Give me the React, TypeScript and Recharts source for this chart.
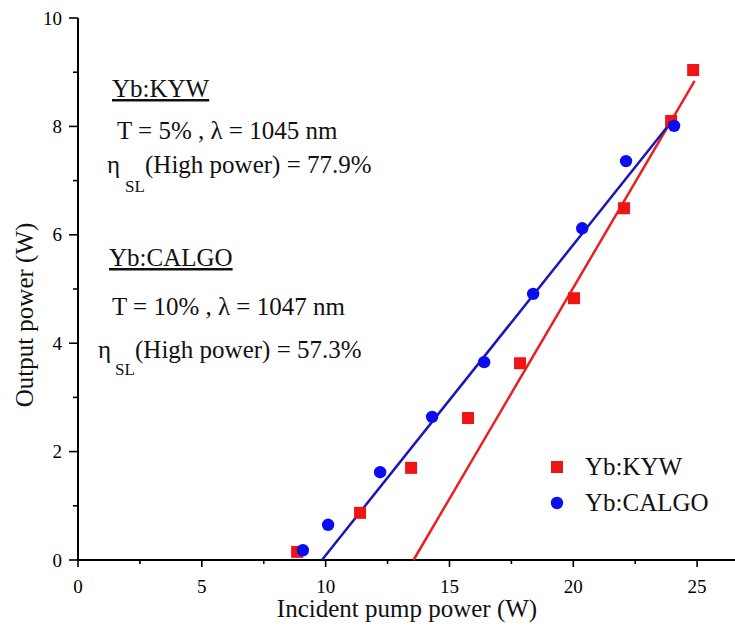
import React from 'react';
import { ComposedChart, Scatter, XAxis, YAxis, Legend } from 'recharts';

const kywX = [8.85, 11.39, 13.45, 15.75, 17.85, 20.03, 22.05, 23.95, 24.84];
const kywY = [0.15, 0.87, 1.7, 2.62, 3.63, 4.83, 6.49, 8.1, 9.04];
const calgoX = [9.08, 10.1, 12.2, 14.3, 16.4, 18.38, 20.36, 22.13, 24.07];
const calgoY = [0.18, 0.65, 1.62, 2.64, 3.65, 4.91, 6.12, 7.36, 8.01];
const kywFitX = [13.55, 24.9];
const kywFitY = [0, 8.84];
const calgoFitX = [9.85, 23.95];
const calgoFitY = [0, 8.08];
const xTicks = [0, 2.5, 5, 7.5, 10, 12.5, 15, 17.5, 20, 22.5, 25];
const yTicks = [0, 1, 2, 3, 4, 5, 6, 7, 8, 9, 10];
const seriesNames = ['Yb:KYW', 'Yb:CALGO'];

const zip = (xs: number[], ys: number[]) => xs.map((x, i) => ({ x, y: ys[i] }));
const kywData = zip(kywX, kywY);
const calgoData = zip(calgoX, calgoY);
const kywFit = zip(kywFitX, kywFitY);
const calgoFit = zip(calgoFitX, calgoFitY);

const FONT = '"Liberation Serif", "Times New Roman", serif';
const RED = '#f01414';
const BLUE = '#0c0cf0';
const RED_LINE = '#e82020';
const BLUE_LINE = '#1818b8';

const XTick = (props: any) => {
  const { x, y, payload } = props;
  const major = payload.value % 5 === 0;
  return (
    <g>
      <line x1={x} x2={x} y1={y} y2={y + (major ? 7 : 4)} stroke="#000" strokeWidth={1.6} />
      {major && (
        <text x={x} y={y + 33} textAnchor="middle" fontSize={19} fontFamily={FONT} fill="#000">
          {payload.value}
        </text>
      )}
    </g>
  );
};

const YTick = (props: any) => {
  const { x, y, payload } = props;
  const major = payload.value % 2 === 0;
  return (
    <g>
      <line x1={x - (major ? 9 : 5)} x2={x} y1={y} y2={y} stroke="#000" strokeWidth={1.6} />
      {major && (
        <text x={x - 16} y={y + 6.5} textAnchor="end" fontSize={19} fontFamily={FONT} fill="#000">
          {payload.value}
        </text>
      )}
    </g>
  );
};

const Square = (props: any) => {
  const { cx, cy } = props;
  return <rect x={cx - 6} y={cy - 6} width={12} height={12} fill={RED} />;
};
const Dot = (props: any) => {
  const { cx, cy } = props;
  return <circle cx={cx} cy={cy} r={6.2} fill={BLUE} />;
};
const NoShape = () => <g />;

const renderLegend = () => (
  <div style={{ fontFamily: FONT, fontSize: 25, color: '#111', lineHeight: '36px' }}>
    <div style={{ display: 'flex', alignItems: 'center', height: 36 }}>
      <svg width={30} height={36}>
        <rect x={3} y={12} width={12} height={12} fill={RED} />
      </svg>
      <span style={{ marginLeft: 7 }}>{seriesNames[0]}</span>
    </div>
    <div style={{ display: 'flex', alignItems: 'center', height: 36 }}>
      <svg width={30} height={36}>
        <circle cx={9} cy={18} r={6.2} fill={BLUE} />
      </svg>
      <span style={{ marginLeft: 7 }}>{seriesNames[1]}</span>
    </div>
  </div>
);

const T = (p: any) => <text fontFamily={FONT} fontSize={25} fill="#111" {...p} />;

export default function App() {
  return (
    <div style={{ position: 'absolute', left: 0, top: 0, width: 735, height: 628, background: '#fff' }}>
      <ComposedChart width={735} height={628} margin={{ top: 18, right: 0, bottom: 0, left: 0 }}>
        <XAxis
          type="number"
          dataKey="x"
          domain={[0, 26.53]}
          ticks={xTicks}
          tick={<XTick />}
          tickLine={false}
          tickSize={0}
          tickMargin={0}
          interval={0}
          height={68}
          axisLine={{ stroke: '#000', strokeWidth: 2 }}
          allowDataOverflow
        />
        <YAxis
          type="number"
          dataKey="y"
          domain={[0, 10]}
          ticks={yTicks}
          tick={<YTick />}
          tickLine={false}
          tickSize={0}
          tickMargin={0}
          interval={0}
          width={78}
          axisLine={{ stroke: '#000', strokeWidth: 2 }}
        />
        <Scatter data={kywFit} line={{ stroke: RED_LINE, strokeWidth: 2.5 }} shape={<NoShape />} isAnimationActive={false} legendType="none" />
        <Scatter data={calgoFit} line={{ stroke: BLUE_LINE, strokeWidth: 2.5 }} shape={<NoShape />} isAnimationActive={false} legendType="none" />
        <Scatter name={seriesNames[0]} data={kywData} shape={<Square />} isAnimationActive={false} />
        <Scatter name={seriesNames[1]} data={calgoData} shape={<Dot />} isAnimationActive={false} />
        <Legend
          layout="vertical"
          align="center"
          verticalAlign="middle"
          content={renderLegend}
          wrapperStyle={{ position: 'absolute', left: 548, top: 449, width: 200, height: 72 }}
        />
      </ComposedChart>
      <svg width={735} height={628} style={{ position: 'absolute', left: 0, top: 0, pointerEvents: 'none' }}>
        <T x={407} y={617} textAnchor="middle">Incident pump power (W)</T>
        <T x={0} y={0} textAnchor="middle" transform="translate(33,315) rotate(-90)">Output power (W)</T>
        <T x={112} y={97} textDecoration="underline">Yb:KYW</T>
        <T x={117} y={139}>T = 5% , λ = 1045 nm</T>
        <T x={107} y={173}>η</T>
        <T x={125} y={192} fontSize={17}>SL</T>
        <T x={145} y={173}>(High power) = 77.9%</T>
        <T x={109} y={266} textDecoration="underline">Yb:CALGO</T>
        <T x={112} y={315}>T = 10% , λ = 1047 nm</T>
        <T x={98} y={358}>η</T>
        <T x={115} y={375} fontSize={17}>SL</T>
        <T x={135} y={358}>(High power) = 57.3%</T>
      </svg>
    </div>
  );
}
